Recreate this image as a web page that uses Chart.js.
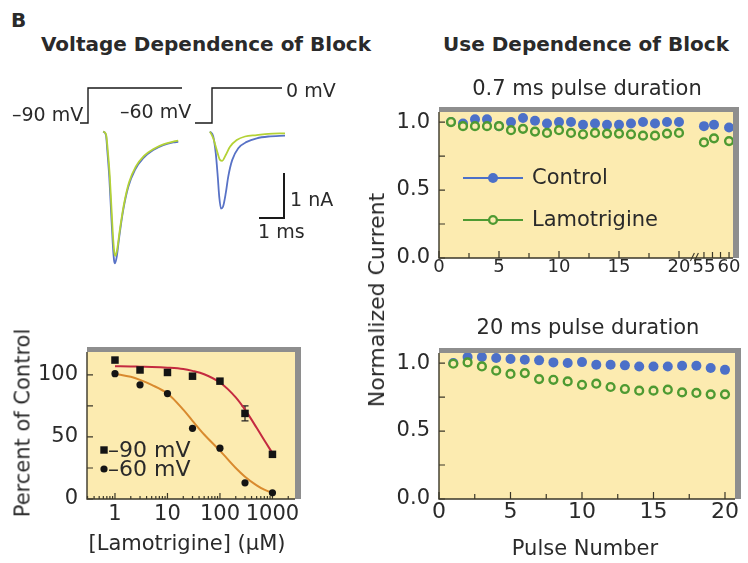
<!DOCTYPE html>
<html>
<head>
<meta charset="utf-8">
<script src="https://cdn.jsdelivr.net/npm/chart.js@4.4.1/dist/chart.umd.min.js"></script>
<style>
  body { margin: 0; background: #fff; }
  #fig { position: relative; width: 748px; height: 563px; overflow: hidden;
         font-family: "DejaVu Sans", sans-serif; color: #2a2a2a; }
  #fig canvas { position: absolute; }
  .t { position: absolute; white-space: nowrap; line-height: 1; }
  .c { transform: translate(-50%, -50%); }
  .l { transform: translate(0, -50%); }
  .v { transform: translate(-50%, -50%) rotate(-90deg); }
  .b { font-weight: bold; }
</style>
</head>
<body>
<div id="fig">
  <canvas id="traceA" width="120" height="205" style="left:70px;top:70px"></canvas>
  <canvas id="traceB" width="115" height="205" style="left:190px;top:70px"></canvas>
  <canvas id="dose" width="310" height="233" style="left:0;top:330px"></canvas>
  <canvas id="use07" width="368" height="225" style="left:380px;top:60px"></canvas>
  <canvas id="use20" width="368" height="230" style="left:380px;top:300px"></canvas>

  <div class="t l b" style="left:11px;top:20px;font-size:20px">B</div>
  <div class="t c b" style="left:206px;top:44px;font-size:20px">Voltage Dependence of Block</div>
  <div class="t c b" style="left:586px;top:44px;font-size:20px">Use Dependence of Block</div>

  <div class="t l" style="left:12px;top:114px;font-size:19px">–90 mV</div>
  <div class="t l" style="left:120px;top:111px;font-size:19px">–60 mV</div>
  <div class="t l" style="left:286px;top:90px;font-size:19px">0 mV</div>
  <div class="t l" style="left:290px;top:199px;font-size:19px">1 nA</div>
  <div class="t l" style="left:258px;top:231px;font-size:19px">1 ms</div>

  <div class="t v" style="left:23px;top:423px;font-size:21px">Percent of Control</div>
  <div class="t c" style="left:187px;top:543px;font-size:21px">[Lamotrigine] (µM)</div>

  <div class="t c" style="left:587px;top:88px;font-size:21px">0.7 ms pulse duration</div>
  <div class="t c" style="left:588px;top:327px;font-size:21px">20 ms pulse duration</div>
  <div class="t v" style="left:377px;top:300px;font-size:22px">Normalized Current</div>
  <div class="t c" style="left:585px;top:548px;font-size:21px">Pulse Number</div>
</div>

<script>
// ---------- values ----------

// example currents: time after the voltage step (ms), current (nA)
const ctrlT90 = [0.61, 0.72, 0.77, 0.85, 0.92, 0.99, 1.04, 1.08, 1.15, 1.25, 1.41, 1.61, 1.88, 2.21, 2.61, 3.01, 3.41, 3.61];
const ctrlI90 = [0.01, -0.07, -0.40, -0.99, -1.73, -2.47, -2.84, -2.92, -2.77, -2.33, -1.73, -1.22, -0.84, -0.58, -0.40, -0.29, -0.23, -0.22];
const drugT90 = [0.61, 0.72, 0.79, 0.87, 0.94, 1.01, 1.06, 1.10, 1.17, 1.28, 1.44, 1.64, 1.91, 2.24, 2.64, 3.04, 3.44, 3.61];
const drugI90 = [0.01, -0.05, -0.40, -0.97, -1.70, -2.40, -2.70, -2.75, -2.60, -2.15, -1.60, -1.12, -0.77, -0.53, -0.37, -0.27, -0.21, -0.19];
const ctrlT60 = [-0.08, 0.05, 0.15, 0.23, 0.29, 0.36, 0.44, 0.55, 0.65, 0.81, 1.05, 1.39, 1.79, 2.25, 2.92];
const ctrlI60 = [0.01, -0.10, -0.47, -0.99, -1.44, -1.70, -1.66, -1.36, -0.99, -0.62, -0.36, -0.22, -0.14, -0.10, -0.08];
const drugT60 = [-0.08, 0.05, 0.19, 0.32, 0.41, 0.55, 0.72, 0.99, 1.32, 1.79, 2.25, 2.92];
const drugI60 = [0.01, -0.14, -0.40, -0.62, -0.64, -0.51, -0.33, -0.18, -0.10, -0.07, -0.04, -0.03];

// voltage protocol (schematic: 0 = holding, 1 = 0 mV)
const stepT90 = [-0.32, 0, 0, 3.76];
const stepT60 = [-0.68, 0, 0, 2.80];
const stepLevel = [0, 0, 1, 1];
// 1 ms / 1 nA scale bar
const barT = [1.88, 2.88, 2.88];
const barI = [-1.91, -1.91, -0.91];

// concentration-response
const concs = [1, 3, 10, 30, 100, 300, 1000];
const block90 = [112, 104, 102, 99, 95, 69, 36];
const block60 = [101, 92, 85, 57, 41, 13, 5];
const fitConcs = [1, 2, 3, 5, 10, 20, 30, 50, 100, 200, 300, 500, 700, 1000];
const fit90 = [107, 106.9, 106.7, 106.5, 105.9, 104.8, 103.3, 100.6, 93.9, 81.9, 72, 57.4, 47.3, 37];
const fit60 = [101, 98.5, 96, 92, 85, 72, 63, 52, 39, 25, 18, 11, 7.5, 5];
const errConc = [300];
const errLo = [63];
const errHi = [75];
const doseTicks = [1, 10, 100, 1000];

// use dependence
const pulses = [1, 2, 3, 4, 5, 6, 7, 8, 9, 10, 11, 12, 13, 14, 15, 16, 17, 18, 19, 20];
const latePulses = [55, 57, 60];
const ctrl07 = [1.00, 0.99, 1.02, 1.02, 0.97, 1.00, 1.03, 1.01, 0.99, 1.00, 1.00, 0.98, 0.99, 0.98, 0.98, 0.99, 1.00, 0.99, 1.00, 1.00];
const drug07 = [1.00, 0.97, 0.97, 0.97, 0.97, 0.94, 0.95, 0.93, 0.92, 0.94, 0.92, 0.91, 0.92, 0.915, 0.915, 0.91, 0.90, 0.90, 0.915, 0.92];
const ctrl07Late = [0.97, 0.98, 0.96];
const drug07Late = [0.85, 0.88, 0.86];
const ctrl20 = [1.00, 1.044, 1.044, 1.037, 1.03, 1.024, 1.02, 1.005, 1.00, 1.007, 0.988, 0.988, 0.983, 0.975, 0.975, 0.975, 0.98, 0.98, 0.963, 0.95];
const drug20 = [0.995, 1.005, 0.975, 0.944, 0.92, 0.926, 0.882, 0.877, 0.865, 0.84, 0.848, 0.824, 0.809, 0.797, 0.797, 0.804, 0.784, 0.78, 0.77, 0.77];
const pulseTicks07 = [0, 5, 10, 15, 20, 55, 60];
const pulseTicks20 = [0, 5, 10, 15, 20];
const currentTicks = [0, 0.5, 1.0];

// ---------- drawing ----------
Chart.defaults.font.family = '"DejaVu Sans", sans-serif';
Chart.defaults.color = '#2a2a2a';

const PAPER = '#fcebb0';
const INK = '#3a3728';
const BLUE = '#4c70c8';
const GREEN = '#4e9a32';

const pts = (xs, ys) => xs.map((x, i) => ({ x: x, y: ys[i] }));

// pulse 55-60 sit on a compressed stretch after the axis break
const breakX = p => p <= 20 ? p : 22.08 + (p - 55) * 0.418;

const framePlugin = {
  id: 'frame',
  beforeDraw(chart) {
    const { ctx, chartArea: a } = chart;
    ctx.save();
    ctx.fillStyle = PAPER;
    ctx.fillRect(a.left, a.top, a.right - a.left, a.bottom - a.top);
    ctx.restore();
  },
  beforeDatasetsDraw(chart, args, o) {
    const { ctx, chartArea: a } = chart;
    const x = chart.scales.x, y = chart.scales.y;
    ctx.save();
    // grey shadow frame on top and right
    ctx.fillStyle = '#8e8e8e';
    ctx.fillRect(a.left, a.top - 5, a.right - a.left + 6, 5);
    ctx.fillRect(a.right, a.top - 5, 6, a.bottom - a.top + 5);
    // axis lines
    ctx.strokeStyle = INK;
    ctx.lineWidth = 1.4;
    ctx.beginPath();
    ctx.moveTo(a.left, a.top);
    ctx.lineTo(a.left, a.bottom);
    ctx.lineTo(a.right, a.bottom);
    ctx.stroke();
    // inner ticks
    ctx.lineWidth = 1.2;
    ctx.beginPath();
    (o.xTicks || []).forEach(([v, len]) => {
      const px = x.getPixelForValue(v);
      ctx.moveTo(px, a.bottom);
      ctx.lineTo(px, a.bottom - len);
    });
    (o.yTicks || []).forEach(([v, len]) => {
      const py = y.getPixelForValue(v);
      ctx.moveTo(a.left, py);
      ctx.lineTo(a.left + len, py);
    });
    ctx.stroke();
    // axis break
    if (o.breakAt != null) {
      const px = x.getPixelForValue(o.breakAt);
      ctx.lineWidth = 1.1;
      ctx.beginPath();
      ctx.moveTo(px - 3, a.bottom + 3); ctx.lineTo(px + 1, a.bottom - 5);
      ctx.moveTo(px + 1, a.bottom + 3); ctx.lineTo(px + 5, a.bottom - 5);
      ctx.stroke();
    }
    // error bars
    (o.errors || []).forEach(([v, lo, hi]) => {
      const px = x.getPixelForValue(v);
      const p1 = y.getPixelForValue(lo), p2 = y.getPixelForValue(hi);
      ctx.strokeStyle = '#222';
      ctx.lineWidth = 1.2;
      ctx.beginPath();
      ctx.moveTo(px, p1); ctx.lineTo(px, p2);
      ctx.moveTo(px - 3.5, p1); ctx.lineTo(px + 3.5, p1);
      ctx.moveTo(px - 3.5, p2); ctx.lineTo(px + 3.5, p2);
      ctx.stroke();
    });
    ctx.restore();
  },
  afterDraw(chart, args, o) {
    const { ctx, chartArea: a } = chart;
    ctx.save();
    (o.legend || []).forEach(it => {
      const yy = a.top + it.dy;
      if (it.line) {
        ctx.strokeStyle = it.color;
        ctx.lineWidth = 2;
        ctx.beginPath();
        ctx.moveTo(a.left + it.line[0], yy);
        ctx.lineTo(a.left + it.line[1], yy);
        ctx.stroke();
      }
      const mx = a.left + it.mx;
      ctx.beginPath();
      if (it.marker === 'rect') {
        ctx.fillStyle = it.color;
        ctx.fillRect(mx - 3.7, yy - 3.7, 7.4, 7.4);
      } else if (it.marker === 'ring') {
        ctx.arc(mx, yy, 3.9, 0, Math.PI * 2);
        ctx.fillStyle = PAPER;
        ctx.fill();
        ctx.strokeStyle = it.color;
        ctx.lineWidth = 2.4;
        ctx.stroke();
      } else {
        ctx.arc(mx, yy, it.r, 0, Math.PI * 2);
        ctx.fillStyle = it.color;
        ctx.fill();
      }
      ctx.fillStyle = '#2a2a2a';
      ctx.font = it.font;
      ctx.textBaseline = 'middle';
      ctx.fillText(it.text, a.left + it.tx, yy + 1);
    });
    ctx.restore();
  }
};

function traceChart(id, xmin, xmax, datasets) {
  return new Chart(document.getElementById(id), {
    type: 'scatter',
    data: { datasets: datasets },
    options: {
      responsive: false,
      animation: false,
      events: [],
      layout: { padding: 0 },
      plugins: { legend: { display: false }, tooltip: { enabled: false } },
      scales: {
        x: { type: 'linear', display: false, min: xmin, max: xmax },
        y: { type: 'linear', display: false, min: -3.178, max: 1.378 },
        y2: { type: 'linear', display: false, min: -4.343, max: 1.514 }
      }
    }
  });
}

const traceLine = (data, color, axis) => ({
  data: data, showLine: true, pointRadius: 0, borderColor: color,
  borderWidth: axis === 'y' ? 1.8 : 1.4, cubicInterpolationMode: axis === 'y' ? 'monotone' : 'default',
  tension: 0, yAxisID: axis
});

traceChart('traceA', -0.72, 4.08, [
  traceLine(pts(drugT90, drugI90), '#b4d236', 'y'),
  traceLine(pts(ctrlT90, ctrlI90), '#5872c6', 'y'),
  traceLine(pts(stepT90, stepLevel), '#1a1a1a', 'y2')
]);

traceChart('traceB', -0.88, 3.72, [
  traceLine(pts(drugT60, drugI60), '#b4d236', 'y'),
  traceLine(pts(ctrlT60, ctrlI60), '#5872c6', 'y'),
  traceLine(pts(stepT60, stepLevel), '#1a1a1a', 'y2'),
  Object.assign(traceLine(pts(barT, barI), '#1a1a1a', 'y'), { borderWidth: 2, cubicInterpolationMode: 'default' })
]);

const tickFont = size => ({ size: size });

// concentration-response, log axis
const logTicks = [];
[0.1, 1, 10, 100, 1000].forEach(d => {
  for (let k = 1; k <= 9; k++) {
    const v = d * k;
    if (v >= 0.3 && v <= 2000) logTicks.push([v, k === 1 ? 6 : 3]);
  }
});

new Chart(document.getElementById('dose'), {
  type: 'scatter',
  data: {
    datasets: [
      { data: pts(concs, block90), pointStyle: 'rect', pointRadius: 5.3, backgroundColor: '#141414', borderWidth: 0 },
      { data: pts(concs, block60), pointStyle: 'circle', pointRadius: 3.6, backgroundColor: '#141414', borderWidth: 0 },
      { data: pts(fitConcs, fit90), showLine: true, pointRadius: 0, borderColor: '#c42a40', borderWidth: 2, cubicInterpolationMode: 'monotone' },
      { data: pts(fitConcs, fit60), showLine: true, pointRadius: 0, borderColor: '#d98a2e', borderWidth: 2, cubicInterpolationMode: 'monotone' }
    ]
  },
  options: {
    responsive: false,
    animation: false,
    events: [],
    layout: { padding: { top: 22, right: 15, left: 0, bottom: 0 } },
    plugins: {
      legend: { display: false },
      tooltip: { enabled: false },
      frame: {
        xTicks: logTicks,
        yTicks: [[0, 6], [25, 6], [50, 6], [75, 6], [100, 6]],
        errors: errConc.map((c, i) => [c, errLo[i], errHi[i]]),
        legend: [
          { marker: 'rect', color: '#141414', mx: 17, dy: 98, tx: 21, text: '–90 mV', font: '22px "DejaVu Sans"' },
          { marker: 'dot', r: 3.6, color: '#141414', mx: 17, dy: 117, tx: 21, text: '–60 mV', font: '22px "DejaVu Sans"' }
        ]
      }
    },
    scales: {
      x: {
        type: 'logarithmic', min: 0.293, max: 2690,
        grid: { display: false, drawTicks: false }, border: { display: false },
        afterBuildTicks: s => { s.ticks = doseTicks.map(v => ({ value: v })); },
        afterFit: s => { s.height = 64; },
        ticks: { autoSkip: false, maxRotation: 0, minRotation: 0, padding: 3, font: tickFont(21), callback: v => String(v) }
      },
      y: {
        type: 'linear', min: 0, max: 118.5,
        grid: { display: false, drawTicks: false }, border: { display: false },
        afterBuildTicks: s => { s.ticks = [0, 50, 100].map(v => ({ value: v })); },
        afterFit: s => { s.width = 87; },
        ticks: { padding: 9, font: tickFont(21) }
      }
    }
  },
  plugins: [framePlugin]
});

// use dependence panels
const currentAxis = {
  type: 'linear', min: 0,
  grid: { display: false, drawTicks: false }, border: { display: false },
  afterBuildTicks: s => { s.ticks = currentTicks.map(v => ({ value: v })); },
  afterFit: s => { s.width = 59; },
  ticks: { padding: 9, font: tickFont(21), callback: v => v.toFixed(1) }
};
const currentTickMarks = [[0, 6], [0.25, 6], [0.5, 6], [0.75, 6], [1.0, 6]];
const ctrlStyle = { pointRadius: 5, backgroundColor: BLUE, borderWidth: 0 };
const drugStyle = { pointRadius: 3.9, backgroundColor: PAPER, borderColor: GREEN, borderWidth: 2.4 };

const x07 = pulses.concat(latePulses).map(breakX);
new Chart(document.getElementById('use07'), {
  type: 'scatter',
  data: {
    datasets: [
      Object.assign({ data: pts(x07, drug07.concat(drug07Late)) }, drugStyle),
      Object.assign({ data: pts(x07, ctrl07.concat(ctrl07Late)) }, ctrlStyle)
    ]
  },
  options: {
    responsive: false,
    animation: false,
    events: [],
    layout: { padding: { top: 52, right: 15, left: 0, bottom: 0 } },
    plugins: {
      legend: { display: false },
      tooltip: { enabled: false },
      frame: {
        xTicks: [0, 2.5, 5, 7.5, 10, 12.5, 15, 17.5, 20].map(v => [v, v % 5 === 0 ? 7 : 5])
          .concat([55, 56.7, 58.3, 60].map(p => [breakX(p), 6])),
        yTicks: currentTickMarks,
        breakAt: 21.2,
        legend: [
          { line: [24, 84], marker: 'dot', r: 5, color: BLUE, mx: 54, dy: 66, tx: 93, text: 'Control', font: '21px "DejaVu Sans"' },
          { line: [24, 84], marker: 'ring', color: GREEN, mx: 54, dy: 108, tx: 93, text: 'Lamotrigine', font: '21px "DejaVu Sans"' }
        ]
      }
    },
    scales: {
      x: {
        type: 'linear', min: 0, max: 24.5,
        grid: { display: false, drawTicks: false }, border: { display: false },
        afterBuildTicks: s => { s.ticks = pulseTicks07.map(p => ({ value: breakX(p) })); },
        afterFit: s => { s.height = 27; },
        ticks: { autoSkip: false, maxRotation: 0, minRotation: 0, padding: -1, font: tickFont(18),
                 callback: (v, i) => String(pulseTicks07[i]) }
      },
      y: Object.assign({}, currentAxis, { max: 1.074 })
    }
  },
  plugins: [framePlugin]
});

new Chart(document.getElementById('use20'), {
  type: 'scatter',
  data: {
    datasets: [
      Object.assign({ data: pts(pulses, drug20) }, drugStyle),
      Object.assign({ data: pts(pulses, ctrl20) }, ctrlStyle)
    ]
  },
  options: {
    responsive: false,
    animation: false,
    events: [],
    layout: { padding: { top: 53, right: 13, left: 0, bottom: 0 } },
    plugins: {
      legend: { display: false },
      tooltip: { enabled: false },
      frame: {
        xTicks: [0, 2.5, 5, 7.5, 10, 12.5, 15, 17.5, 20].map(v => [v, v % 5 === 0 ? 7 : 5]),
        yTicks: currentTickMarks
      }
    },
    scales: {
      x: {
        type: 'linear', min: 0, max: 20.7,
        grid: { display: false, drawTicks: false }, border: { display: false },
        afterBuildTicks: s => { s.ticks = pulseTicks20.map(v => ({ value: v })); },
        afterFit: s => { s.height = 31; },
        ticks: { autoSkip: false, maxRotation: 0, minRotation: 0, padding: 0, font: tickFont(22) }
      },
      y: Object.assign({}, currentAxis, { max: 1.074 })
    }
  },
  plugins: [framePlugin]
});
</script>
</body>
</html>
